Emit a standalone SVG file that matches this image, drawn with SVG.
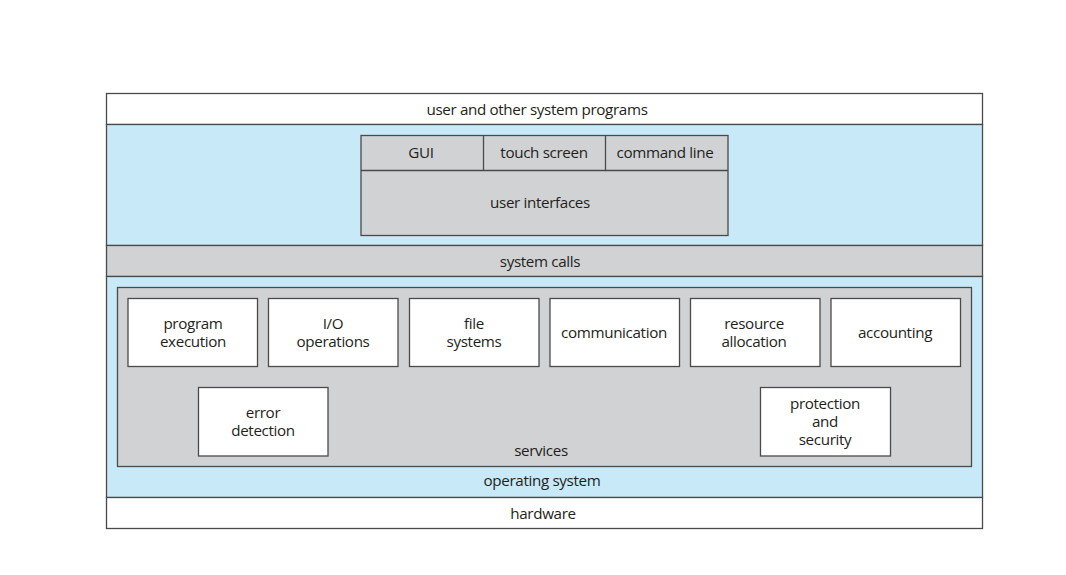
<svg xmlns="http://www.w3.org/2000/svg" width="1066" height="575" viewBox="0 0 1066 575">
<style>
.b{stroke:#4a4a4a;stroke-width:1.3}
.w{fill:#ffffff}
.g{fill:#d1d2d4}
.l{fill:#c7e9f8}
text{font-family:"Open Sans","Noto Sans","Liberation Sans",sans-serif;font-size:15.2px;letter-spacing:-0.35px;fill:#231f20;text-anchor:middle}
</style>
<rect width="1066" height="575" fill="#ffffff"/>
<g id="user-programs"><rect class="b w" x="106.5" y="93.5" width="876" height="31"/><text x="537" y="115">user and other system programs</text></g>
<g id="os-upper"><rect class="b l" x="106.5" y="124.5" width="876" height="121"/></g>
<g id="user-interfaces">
<rect class="b g" x="361" y="135.5" width="367" height="100"/>
<line class="b" x1="361" y1="170.5" x2="728" y2="170.5"/>
<line class="b" x1="483.5" y1="135.5" x2="483.5" y2="170.5"/>
<line class="b" x1="605.5" y1="135.5" x2="605.5" y2="170.5"/>
<text x="421" y="158">GUI</text>
<text x="544" y="158">touch screen</text>
<text x="665" y="158">command line</text>
<text x="540" y="208">user interfaces</text>
</g>
<g id="system-calls"><rect class="b g" x="106.5" y="245.5" width="876" height="31"/><text x="540" y="267">system calls</text></g>
<g id="operating-system"><rect class="b l" x="106.5" y="276.5" width="876" height="221"/><text x="542" y="486">operating system</text></g>
<g id="services"><rect class="b g" x="117.5" y="287.5" width="854" height="179"/><text x="541" y="456">services</text></g>
<g id="program-execution"><rect class="b w" x="128" y="298.5" width="129.5" height="68"/><text x="193" y="329">program</text><text x="193" y="347">execution</text></g>
<g id="io-operations"><rect class="b w" x="268.5" y="298.5" width="129.5" height="68"/><text x="333" y="329">I/O</text><text x="333" y="347">operations</text></g>
<g id="file-systems"><rect class="b w" x="409.5" y="298.5" width="129.5" height="68"/><text x="474" y="329">file</text><text x="474" y="347">systems</text></g>
<g id="communication"><rect class="b w" x="550" y="298.5" width="129.5" height="68"/><text x="614" y="338">communication</text></g>
<g id="resource-allocation"><rect class="b w" x="690.5" y="298.5" width="129.5" height="68"/><text x="754" y="329">resource</text><text x="754" y="347">allocation</text></g>
<g id="accounting"><rect class="b w" x="831" y="298.5" width="129.5" height="68"/><text x="895" y="338">accounting</text></g>
<g id="error-detection"><rect class="b w" x="198.5" y="387.5" width="129.5" height="68.5"/><text x="263" y="418">error</text><text x="263" y="436">detection</text></g>
<g id="protection-security"><rect class="b w" x="760.5" y="387.5" width="130" height="68.5"/><text x="825" y="409">protection</text><text x="825" y="427">and</text><text x="825" y="445">security</text></g>
<g id="hardware"><rect class="b w" x="106.5" y="497.5" width="876" height="31"/><text x="543" y="519">hardware</text></g>
<g id="connectors"></g>
</svg>
